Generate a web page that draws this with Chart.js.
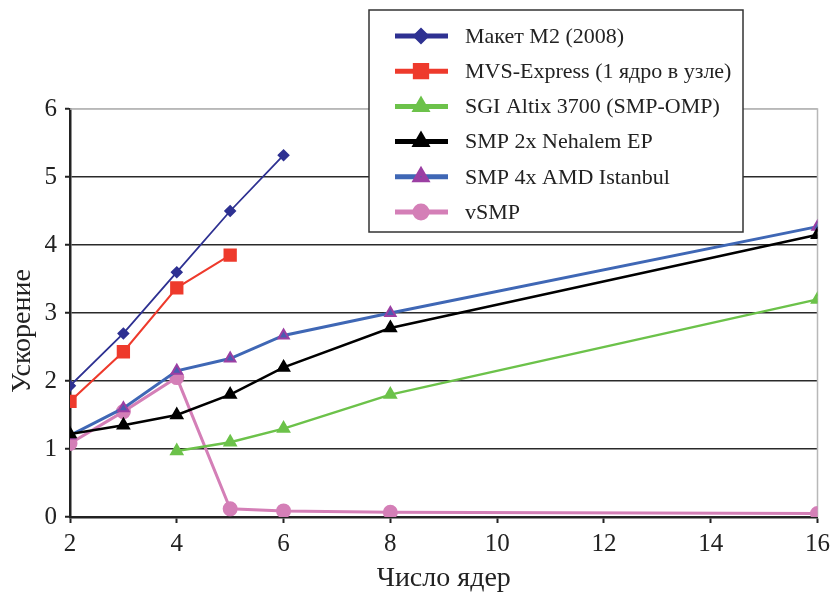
<!DOCTYPE html>
<html><head><meta charset="utf-8">
<script src="https://cdn.jsdelivr.net/npm/chart.js@4/dist/chart.umd.min.js"></script>
<style>html,body{margin:0;padding:0;background:#fff}#wrap{width:836px;height:595px}</style>
</head><body><div id="wrap"><canvas id="c" width="836" height="595"></canvas></div>
<script>
const seriesLabels = ["Макет M2 (2008)", "MVS-Express (1 ядро в узле)", "SGI Altix 3700 (SMP-OMP)", "SMP 2x Nehalem EP", "SMP 4x AMD Istanbul", "vSMP"];
const m2Cores = [2, 3, 4, 5, 6];
const m2Speedup = [1.93, 2.70, 3.60, 4.50, 5.32];
const mvsCores = [2, 3, 4, 5];
const mvsSpeedup = [1.70, 2.43, 3.37, 3.85];
const sgiCores = [4, 5, 6, 8, 16];
const sgiSpeedup = [0.97, 1.10, 1.30, 1.80, 3.20];
const nehCores = [2, 3, 4, 5, 6, 8, 16];
const nehSpeedup = [1.22, 1.35, 1.50, 1.80, 2.20, 2.78, 4.15];
const amdCores = [2, 3, 4, 5, 6, 8, 16];
const amdSpeedup = [1.20, 1.60, 2.15, 2.33, 2.67, 3.00, 4.27];
const vsmpCores = [2, 3, 4, 5, 6, 8, 16];
const vsmpSpeedup = [1.08, 1.55, 2.05, 0.12, 0.09, 0.07, 0.05];
const xTicks = [2, 4, 6, 8, 10, 12, 14, 16];
const yTicks = [0, 1, 2, 3, 4, 5, 6];
const xTitle = "Число ядер";
const yTitle = "Ускорение";

const pts = (xs, ys) => xs.map((x, i) => ({x: x, y: ys[i]}));
const SERIF = "'Liberation Serif', 'DejaVu Serif', serif";

const datasets = [
  {label: seriesLabels[0], data: pts(m2Cores, m2Speedup), borderColor: '#2e3192', backgroundColor: '#2e3192', borderWidth: 1.8, pointStyle: 'rectRot', pointRadius: 5, pointBorderColor: '#2e3192', pointBackgroundColor: '#2e3192'},
  {label: seriesLabels[1], data: pts(mvsCores, mvsSpeedup), borderColor: '#ee3a2c', backgroundColor: '#ee3a2c', borderWidth: 2, pointStyle: 'rect', pointRadius: 8, pointBorderColor: '#ee3a2c', pointBackgroundColor: '#ee3a2c'},
  {label: seriesLabels[2], data: pts(sgiCores, sgiSpeedup), borderColor: '#6cc24a', backgroundColor: '#6cc24a', borderWidth: 2.5, pointStyle: 'triangle', pointRadius: 6, pointBorderColor: '#6cc24a', pointBackgroundColor: '#6cc24a'},
  {label: seriesLabels[3], data: pts(nehCores, nehSpeedup), borderColor: '#000000', backgroundColor: '#000000', borderWidth: 2.5, pointStyle: 'triangle', pointRadius: 6, pointBorderColor: '#000000', pointBackgroundColor: '#000000'},
  {label: seriesLabels[4], data: pts(amdCores, amdSpeedup), borderColor: '#3f67b5', backgroundColor: '#3f67b5', borderWidth: 3, pointStyle: 'triangle', pointRadius: 6, pointBorderColor: '#9b3fa3', pointBorderWidth: 2, pointBackgroundColor: '#4a5cb0'},
  {label: seriesLabels[5], data: pts(vsmpCores, vsmpSpeedup), borderColor: '#d47fb7', backgroundColor: '#d47fb7', borderWidth: 3, pointStyle: 'circle', pointRadius: 6, pointBorderColor: '#d47fb7', pointBackgroundColor: '#d47fb7'}
];

const frameAndLegend = {
  id: 'frameAndLegend',
  beforeDatasetsDraw(chart) {
    const {ctx, chartArea: a} = chart;
    ctx.save();
    ctx.strokeStyle = '#b8b8b8';
    ctx.lineWidth = 1.5;
    ctx.beginPath();
    ctx.moveTo(a.left, a.top); ctx.lineTo(a.right, a.top); ctx.lineTo(a.right, a.bottom);
    ctx.stroke();
    ctx.restore();
  },
  afterDraw(chart) {
    const ctx = chart.ctx;
    ctx.save();
    // y axis title
    ctx.save();
    ctx.translate(23, 331);
    ctx.rotate(-Math.PI / 2);
    ctx.font = "28px " + SERIF;
    ctx.fillStyle = '#222';
    ctx.textAlign = 'center';
    ctx.textBaseline = 'middle';
    ctx.fillText(yTitle, 0, 0);
    ctx.restore();
    // legend box
    ctx.fillStyle = '#fff';
    ctx.fillRect(369, 10, 374, 222);
    ctx.strokeStyle = '#333';
    ctx.lineWidth = 1.5;
    ctx.strokeRect(369, 10, 374, 222);
    ctx.font = "22px " + SERIF;
    ctx.textBaseline = 'middle';
    ctx.textAlign = 'left';
    chart.data.datasets.forEach((ds, i) => {
      const y = 36 + i * 35.2;
      ctx.strokeStyle = ds.borderColor;
      ctx.lineWidth = 5;
      ctx.beginPath(); ctx.moveTo(395, y); ctx.lineTo(448, y); ctx.stroke();
      ctx.save();
      ctx.fillStyle = ds.pointBackgroundColor;
      ctx.strokeStyle = ds.pointBorderColor;
      Chart.helpers.drawPoint(ctx, {pointStyle: ds.pointStyle, radius: ds.pointRadius, rotation: 0, borderWidth: ds.pointBorderWidth || 1}, 421, y);
      ctx.restore();
      ctx.fillStyle = '#222';
      ctx.fillText(ds.label, 465, y + 1);
    });
    ctx.restore();
  }
};

new Chart(document.getElementById('c'), {
  type: 'line',
  data: {datasets: datasets},
  plugins: [frameAndLegend],
  options: {
    responsive: false,
    animation: false,
    layout: {padding: {left: 0, right: 16, top: 109, bottom: 0}},
    elements: {line: {tension: 0}},
    plugins: {legend: {display: false}, tooltip: {enabled: false}},
    scales: {
      x: {
        type: 'linear', min: 2, max: 16,
        afterBuildTicks: s => { s.ticks = xTicks.map(v => ({value: v})); },
        afterFit: s => { s.height = 78; },
        grid: {drawOnChartArea: false, drawTicks: true, tickLength: 6, tickColor: '#222', tickWidth: 2},
        border: {color: '#222', width: 2.5},
        ticks: {color: '#222', font: {family: SERIF, size: 25}, padding: 6, maxRotation: 0},
        title: {display: true, text: xTitle, color: '#222', font: {family: SERIF, size: 28}, padding: {top: 0, bottom: 0}}
      },
      y: {
        min: 0, max: 6,
        afterBuildTicks: s => { s.ticks = yTicks.map(v => ({value: v})); },
        afterFit: s => { s.width = 70; },
        grid: {drawOnChartArea: true, tickLength: 5, tickWidth: 2, tickColor: '#222', lineWidth: 1.5,
               color: c => (c.tick && c.tick.value === 6) ? '#b8b8b8' : '#2a2a2a'},
        border: {color: '#222', width: 2.5},
        ticks: {color: '#222', font: {family: SERIF, size: 25}, padding: 8}
      }
    }
  }
});
</script></body></html>
